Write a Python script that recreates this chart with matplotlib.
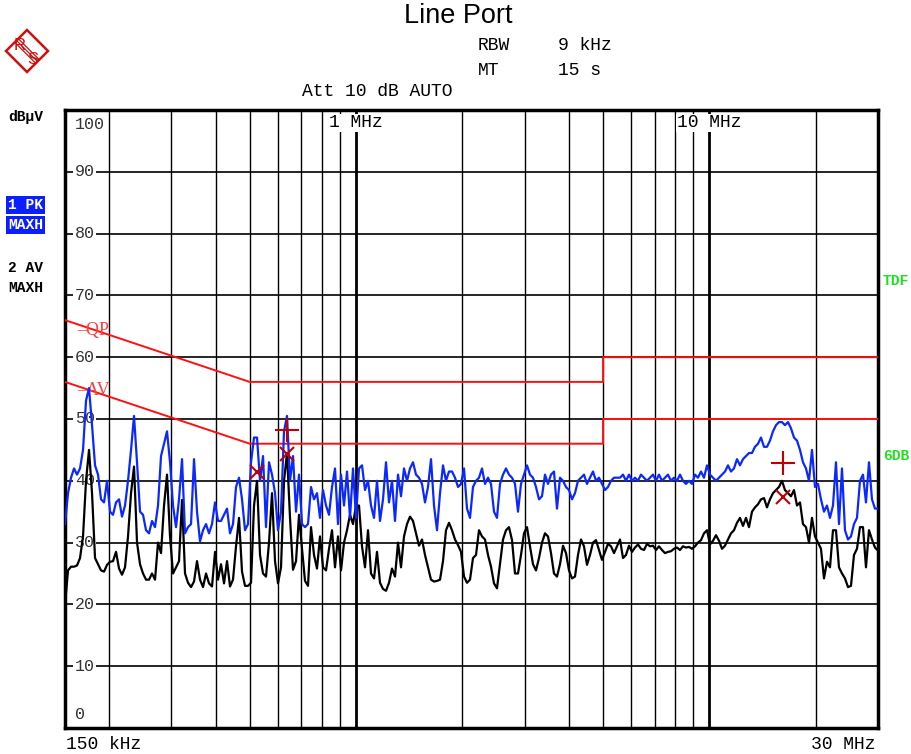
import numpy as np
import matplotlib
matplotlib.use("Agg")
import matplotlib.pyplot as plt
from matplotlib.patches import Polygon

# sweep: 150 kHz .. 30 MHz, log spaced sweep points (MHz)
n_pts = 272
freq = np.geomspace(0.15, 30.0, n_pts)

# trace 1: peak, max hold (dBuV)
pk = [33, 38, 40.5, 42, 41, 42, 45, 53, 55, 49,
      42.5, 41, 37, 36.5, 40, 35, 34.5, 36.5, 37, 34.2,
      36, 40, 45, 50.5, 43, 35, 34.5, 32, 31.5, 33.5,
      32.5, 36, 44, 46, 48, 43, 36, 32.5, 37, 43.5,
      31.5, 32.5, 33, 43.5, 35, 30.2, 32, 33, 31.5, 33,
      36.5, 33.5, 33.5, 34.5, 35.5, 31.5, 33, 39, 40.5, 37,
      32, 33, 43, 47, 47, 40, 44, 32.5, 43, 41,
      38, 32, 35, 48, 50.5, 40, 44, 35, 41, 33,
      32.5, 33, 39, 37, 38, 34, 38.5, 36, 34.5, 39,
      42, 33, 41, 36, 41.5, 34, 42, 34, 42, 42.5,
      38.5, 40, 36, 34, 40, 33.5, 37, 43, 36.5, 40,
      33.5, 41, 37.5, 42, 40, 42, 43, 41, 40.5, 39.5,
      36.5, 39, 43.5, 36, 32, 38, 42.5, 40, 41.5, 41.5,
      40.5, 39, 39.5, 42, 35.5, 34, 39, 40, 40.5, 42,
      39.5, 40.5, 39.5, 35, 34, 39.5, 41, 42, 41, 40.5,
      39.5, 35, 39.5, 41, 42.5, 41, 40.5, 39, 37, 37.5,
      41, 39.5, 41, 41.5, 35.5, 40.5, 40, 39, 38.5, 37,
      38, 40, 40.5, 41, 39.5, 40.5, 41.5, 40, 40.5, 39.5,
      38.5, 39, 40, 40.5, 40.5, 40.5, 41, 40, 41, 40,
      40.5, 40, 41, 40.5, 40, 40.5, 41, 40, 41, 40,
      40.5, 41, 40, 40.5, 40, 41, 40, 39.5, 40, 39.5,
      41, 40.5, 41.5, 40.5, 42.5, 41, 40.5, 40, 40.5, 41,
      41.5, 42.5, 41.5, 42, 43.5, 42.5, 43.5, 44, 44.5, 44.5,
      45.5, 46, 47, 45.5, 45.5, 46.5, 48, 49, 49.5, 49.5,
      49, 49.5, 48.5, 47, 46.5, 45, 43, 42, 40, 45,
      39, 39.5, 37, 35, 36, 34, 36, 43, 33, 42,
      32, 30.5, 31, 33, 34, 40, 41, 36.5, 43, 37,
      35.5, 35.5]

# trace 2: average, max hold (dBuV)
av = [20, 25.5, 26.1, 26.1, 26.3, 27.5, 31, 40, 45, 38,
      27.5, 26.5, 25.5, 25.3, 26.4, 26.9, 27, 28.5, 25.8, 24.8,
      26, 31, 38, 42.3, 30, 26.5, 25, 24, 24, 25,
      24, 30, 28.3, 36, 41, 31, 25, 26, 27, 36.9,
      25, 23.5, 22.8, 23.7, 27, 24, 22.8, 25, 23.4, 22.9,
      28.5, 24, 26.5, 23.4, 27, 22.9, 24, 29.4, 34, 25.3,
      23, 23, 23.5, 36, 40, 28, 25, 24.5, 30, 38,
      27, 23.4, 26, 40, 44.5, 34, 25.6, 27, 34.5, 29,
      23.8, 23, 32.5, 28, 25.8, 31, 26, 25.5, 29, 32,
      26, 31, 25.5, 30, 32, 34.5, 33, 36, 36, 29.4,
      26, 32, 25, 24.2, 28.5, 23.5, 22.5, 22.2, 23.5, 25.8,
      24.5, 30, 26, 31, 33, 34.2, 33.5, 31.5, 29.5, 30.5,
      28, 26, 24, 23.7, 23.8, 24, 27, 32, 33.2, 32,
      30.5, 29.6, 28.5, 24.5, 23.5, 24, 27.5, 28, 32, 31,
      30.5, 28, 26.1, 23.4, 22.6, 26.5, 30.5, 32, 32.5, 30.4,
      25, 25, 28, 31.5, 32.5, 29.4, 26.5, 25.5, 27.5, 30,
      31.5, 31, 28.3, 25, 24.5, 26.5, 29.5, 28.3, 25.5, 24.2,
      24.5, 28, 30.5, 29.4, 26.4, 28, 30, 30.4, 28.8, 27.2,
      28.5, 29.8, 29.4, 28.3, 29.4, 30.5, 27.5, 28, 29.5, 28.5,
      29.2, 29.7, 29, 28.8, 29.8, 29.4, 29.5, 28.8, 29.4, 28.8,
      28.3, 28.5, 28.6, 29, 29.2, 28.8, 29.4, 29.2, 29.3, 29,
      29.4, 30, 30.4, 31.5, 32, 29.7, 30.3, 31.2, 30.3, 29,
      29.5, 30.5, 31.5, 32, 33.2, 34, 32.7, 34, 32.5, 35,
      35.7, 36.2, 37, 37.2, 35.7, 37, 38, 38.5, 39, 40,
      38.5, 38, 37.5, 38.5, 36, 36.5, 33, 32.5, 30, 34,
      31, 30, 29, 24.2, 26.9, 26, 32, 32, 26, 25,
      24.2, 22.8, 23, 28, 29, 32.5, 32.5, 26, 32, 30.5,
      29.2, 28.7]

# limit lines, MHz / dBuV
qp_f = [0.15, 0.5, 5.0, 5.0, 30.0]
qp_l = [66, 56, 56, 60, 60]
av_f = [0.15, 0.5, 5.0, 5.0, 30.0]
av_l = [56, 46, 46, 50, 50]

# final measurement markers
x_f = [0.524, 0.6385, 16.16]
x_l = [41.5, 44.3, 37.4]
plus_f = [0.6385, 16.16]
plus_l = [48.3, 42.8]

grid_f = [0.2, 0.3, 0.4, 0.5, 0.6, 0.7, 0.8, 0.9, 1, 2, 3, 4, 5, 6, 7, 8, 9, 10, 20]
grid_db = [10, 20, 30, 40, 50, 60, 70, 80, 90]

MONO = "Liberation Mono"
BLUE = "#0a28ff"
LOGO = "#cc1111"

fig = plt.figure(figsize=(9.12, 7.54), dpi=100)
ax = fig.add_axes([0.0713, 0.0345, 0.8914, 0.8196])
ax.set_xscale("log")
ax.set_xlim(0.15, 30)
ax.set_ylim(0, 100)
ax.set_xticks([])
ax.set_yticks([])
ax.minorticks_off()
for s in ax.spines.values():
    s.set_linewidth(2.5)

for f in grid_f:
    lw = 2.0 if f in (1, 10) else 1.0
    ax.axvline(f, color="black", lw=lw, zorder=1)
for d in grid_db:
    ax.axhline(d, color="black", lw=1.2, zorder=1)

# level labels inside plot
ytr = ax.get_yaxis_transform()
lab_kw = dict(transform=ytr, fontsize=12, family=MONO, color="#333333",
              va="center", ha="left", zorder=2,
              bbox=dict(facecolor="white", edgecolor="none", pad=1))
for d in grid_db:
    ax.text(0.012, d, str(d), **lab_kw)
ax.text(0.012, 97.7, "100", **lab_kw)
ax.text(0.012, 2.2, "0", **lab_kw)

xtr = ax.get_xaxis_transform()
ax.text(1.0, 0.979, "1 MHz", transform=xtr, fontsize=13, family=MONO,
        ha="center", va="center", zorder=2,
        bbox=dict(facecolor="white", edgecolor="none", pad=0.5))
ax.text(10.0, 0.979, "10 MHz", transform=xtr, fontsize=13, family=MONO,
        ha="center", va="center", zorder=2,
        bbox=dict(facecolor="white", edgecolor="none", pad=0.5))

# limits
ax.plot(qp_f, qp_l, color="#ff1010", lw=1.4, zorder=3)
ax.plot(av_f, av_l, color="#ff1010", lw=1.4, zorder=3)
ax.text(0.162, 64.4, "\u2013QP", fontsize=13, family="Liberation Serif",
        color="#ff4040", va="center", zorder=3)
ax.text(0.162, 54.6, "\u2013AV", fontsize=13, family="Liberation Serif",
        color="#ff4040", va="center", zorder=3)

# traces
ax.plot(freq, av, color="black", lw=1.6, zorder=4)
ax.plot(freq, pk, color=BLUE, lw=1.6, zorder=5)

ax.plot(x_f, x_l, ls="none", marker="x", ms=10, mew=1.5, color="#c00000", zorder=6)
ax.plot(plus_f, plus_l, ls="none", marker="+", ms=17, mew=1.5, color="#c00000", zorder=6)

# header text
fig.text(0.502, 0.979, "Line Port", fontsize=19.5, family="Liberation Sans",
         ha="center", va="center")
hdr = dict(fontsize=13, family=MONO, va="center")
fig.text(0.524, 0.939, "RBW", **hdr)
fig.text(0.612, 0.939, "9 kHz", **hdr)
fig.text(0.524, 0.907, "MT", **hdr)
fig.text(0.612, 0.907, "15 s", **hdr)
fig.text(0.331, 0.878, "Att 10 dB AUTO", **hdr)

side = dict(fontsize=10.5, family=MONO, weight="bold", va="center")
fig.text(0.009, 0.845, "dB\u00b5V", **side)
fig.text(0.009, 0.728, "1 PK", color="white",
         bbox=dict(facecolor="#0a1eff", edgecolor="none", pad=1.5), **side)
fig.text(0.009, 0.701, "MAXH", color="white",
         bbox=dict(facecolor="#0a1eff", edgecolor="none", pad=1.5), **side)
fig.text(0.009, 0.645, "2 AV", **side)
fig.text(0.009, 0.618, "MAXH", **side)

fig.text(0.968, 0.627, "TDF", color="#22dd22", **side)
fig.text(0.968, 0.395, "6DB", color="#22dd22", **side)

fig.text(0.072, 0.013, "150 kHz", fontsize=13, family=MONO, va="center")
fig.text(0.960, 0.013, "30 MHz", fontsize=13, family=MONO, va="center", ha="right")

# R&S logo, figure pixel coordinates
W, H = 912.0, 754.0
cx, cy, r = 27.0, 754.0 - 51.0, 21.0
diamond = Polygon([((cx - r) / W, cy / H), (cx / W, (cy + r) / H),
                   ((cx + r) / W, cy / H), (cx / W, (cy - r) / H)],
                  closed=True, fill=False, edgecolor=LOGO, lw=1.8,
                  transform=fig.transFigure)
fig.patches.append(diamond)
for off in (-1.8, 0, 1.8):
    fig.add_artist(plt.Line2D([(cx - 10.5 + off) / W, (cx + 10.5 + off) / W],
                              [(cy + 10.5 + off) / H, (cy - 10.5 + off) / H],
                              color=LOGO, lw=0.9, transform=fig.transFigure))
fig.text((cx - 7) / W, (cy + 6) / H, "R", fontsize=12, family="Liberation Sans",
         color=LOGO, ha="center", va="center")
fig.text((cx + 6) / W, (cy - 8) / H, "S", fontsize=12, family="Liberation Sans",
         color=LOGO, ha="center", va="center")

fig.savefig("out.png", dpi=100)
